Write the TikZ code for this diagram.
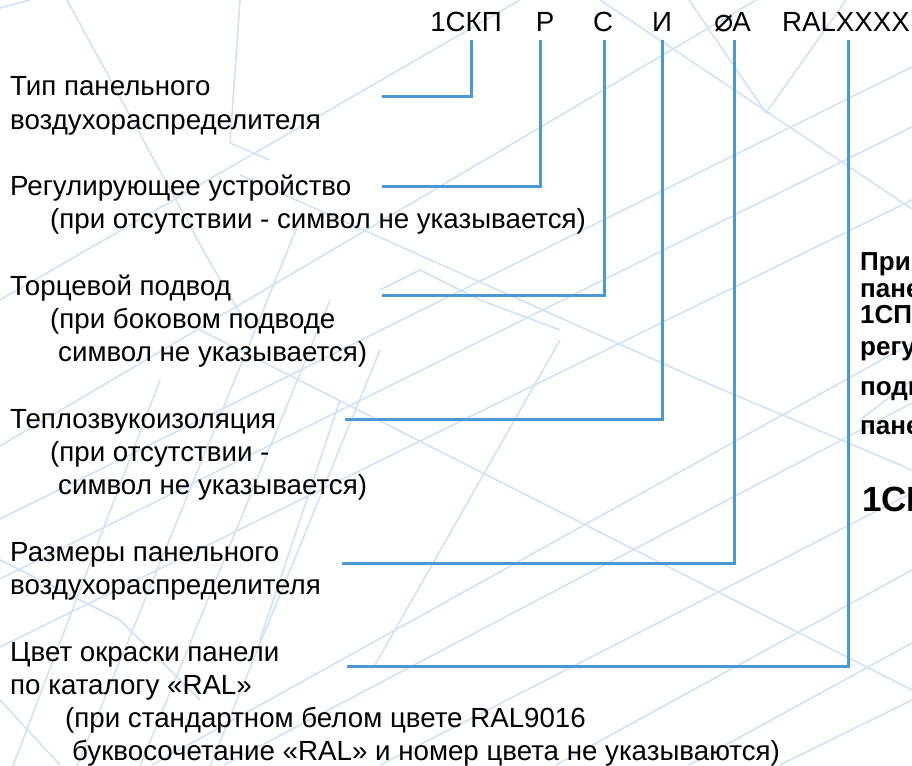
\documentclass[tikz,border=0pt]{standalone}
\usepackage{fontspec}
\setmainfont{Liberation Sans}
\newfontfamily\dejavu{DejaVu Sans}
\definecolor{connblue}{RGB}{74,152,215}
\definecolor{bgblue}{RGB}{208,227,245}
\begin{document}
\begin{tikzpicture}[x=1pt,y=-1pt,
  lbl/.style={anchor=base west, inner sep=0pt, font=\fontsize{27.7}{33}\selectfont},
  codetxt/.style={anchor=base, inner sep=0pt, font=\fontsize{27.7}{33}\selectfont},
  note/.style={anchor=base west, inner sep=0pt, font=\bfseries\fontsize{26}{28}\selectfont},
  bignote/.style={anchor=base west, inner sep=0pt, font=\bfseries\fontsize{35}{40}\selectfont},
  conn/.style={draw=connblue, line width=3pt},
  bgline/.style={draw=bgblue, line width=1.6pt}]
\useasboundingbox (0,0) rectangle (912,765);
\clip (0,0) rectangle (912,765);
% ---------- background pattern ----------
\draw[bgline] (152,765) -- (912,343);
\draw[bgline] (224,765) -- (912,403);
\draw[bgline] (380,765) -- (912,493);
\draw[bgline] (556,765) -- (912,570);
\draw[bgline] (689,765) -- (912,643);
\draw[bgline] (0,446) -- (756,0);
\draw[bgline] (0,519) -- (912,67);
\draw[bgline] (0,579) -- (912,127);
\draw[bgline] (0,647) -- (912,200);
\draw[bgline] (0,300) -- (520,0);
\draw[bgline] (200,330) -- (912,690);
\draw[bgline] (600,0) -- (912,209);
\draw[bgline] (240,175) -- (700,380) -- (912,470);
\draw[bgline] (0,800) -- (160,380);
\draw[bgline] (77,766) -- (300,220);
\draw[bgline] (140,766) -- (330,300);
\draw[bgline] (210,766) -- (380,350);
\draw[bgline] (375,665) -- (560,340);
\draw[bgline] (240,0) -- (230,143) -- (270,160);
\draw[bgline] (689,0) -- (766,113) -- (846,0);
\draw[bgline] (67,0) -- (207,257) -- (250,330);
\draw[bgline] (0,8) -- (30,0);
\draw[bgline] (380,290) -- (420,270) -- (480,300) -- (560,330);
\draw[bgline] (0,700) -- (60,765);
\draw[bgline] (0,560) -- (120,620) -- (200,700);
\draw[bgline] (340,400) -- (300,520) -- (260,640);
\draw[bgline] (780,765) -- (912,700);
\draw[bgline] (860,420) -- (912,380);
% ---------- code line ----------
\node[codetxt] (k1) at (466,32) {1СКП};
\node[codetxt] (k2) at (545,32) {Р};
\node[codetxt] (k3) at (603,32) {С};
\node[codetxt] (k4) at (662,32) {И};
\node[codetxt, anchor=base west] (k5) at (714,32) {{\dejavu\fontsize{32}{32}\selectfont ⌀}\kern-1ptA};
\node[codetxt] (k6) at (846,32) {RALXXXX};
% ---------- labels ----------
\node[lbl] (a1) at (10,96) {Тип панельного};
\node[lbl] (a2) at (10,129) {воздухораспределителя};
\node[lbl] (b1) at (10,195) {Регулирующее устройство};
\node[lbl] (b2) at (50,228) {(при отсутствии - символ не указывается)};
\node[lbl] (c1) at (10,295) {Торцевой подвод};
\node[lbl] (c2) at (50,328) {(при боковом подводе};
\node[lbl] (c3) at (58,361) {символ не указывается)};
\node[lbl] (d1) at (10,428) {Теплозвукоизоляция};
\node[lbl] (d2) at (50,461) {(при отсутствии -};
\node[lbl] (d3) at (58,494) {символ не указывается)};
\node[lbl] (e1) at (10,561) {Размеры панельного};
\node[lbl] (e2) at (10,594) {воздухораспределителя};
\node[lbl] (f1) at (10,661) {Цвет окраски панели};
\node[lbl] (f2) at (10,694) {по каталогу «RAL»};
\node[lbl] (f3) at (65,727) {(при стандартном белом цвете RAL9016};
\node[lbl] (f4) at (72,760) {буквосочетание «RAL» и номер цвета не указываются)};
% ---------- right note (cut by the edge, as in the reference) ----------
\node[note] (n1) at (860,270) {При};
\node[note] (n2) at (860,297) {панели};
\node[note] (n3) at (860,323) {1СП};
\node[note] (n4) at (860,355) {регулирующим};
\node[note] (n5) at (860,395) {подводом};
\node[note] (n6) at (860,434) {панели};
\node[bignote] (n7) at (862,511) {1СП};
% ---------- connectors ----------
\coordinate (s1) at (382,97);  \coordinate (t1) at (471,40);
\coordinate (s2) at (382,186); \coordinate (t2) at (540,40);
\coordinate (s3) at (382,295); \coordinate (t3) at (604,40);
\coordinate (s4) at (345,419); \coordinate (t4) at (662,40);
\coordinate (s5) at (342,563); \coordinate (t5) at (734,40);
\coordinate (s6) at (347,666); \coordinate (t6) at (848,40);
\draw[conn] (s1) -| (t1);
\draw[conn] (s2) -| (t2);
\draw[conn] (s3) -| (t3);
\draw[conn] (s4) -| (t4);
\draw[conn] (s5) -| (t5);
\draw[conn] (s6) -| (t6);
\end{tikzpicture}
\end{document}
